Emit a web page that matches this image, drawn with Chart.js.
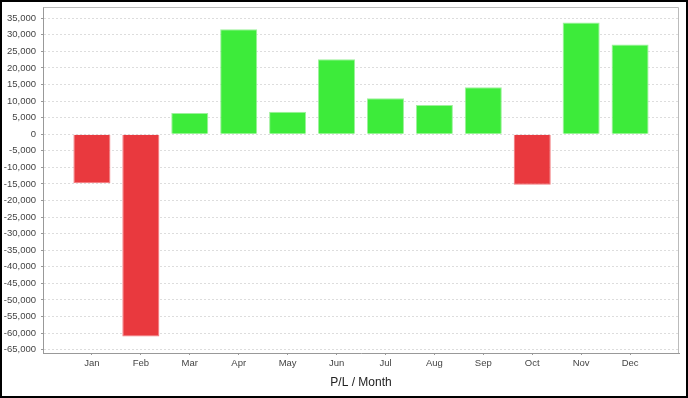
<!DOCTYPE html>
<html>
<head>
<meta charset="utf-8">
<script src="https://cdn.jsdelivr.net/npm/chart.js@4/dist/chart.umd.min.js"></script>
<style>
  html, body { margin: 0; padding: 0; background: #fff; }
  #wrap { width: 688px; height: 398px; box-sizing: border-box; border: 2px solid #000; background: #fff; }
  canvas { display: block; }
</style>
</head>
<body>
<div id="wrap"><canvas id="c" width="684" height="394"></canvas></div>
<script>
const months = ['Jan', 'Feb', 'Mar', 'Apr', 'May', 'Jun', 'Jul', 'Aug', 'Sep', 'Oct', 'Nov', 'Dec'];
const profitLoss = [-14800, -61000, 6400, 31700, 6800, 22600, 10900, 8800, 14200, -15200, 33700, 27100];
const yTickStep = 5000;
const yMin = -66000;
const yMax = 38400;
const xTitle = 'P/L / Month';

// pad the category axis with one empty slot on each side (category margins)
const labels = [''].concat(months, ['']);
const values = [null].concat(profitLoss, [null]);

const RED = '#E9393E', RED_EDGE = '#F2777B';
const GREEN = '#3DEB3A', GREEN_EDGE = '#9DF19B';

const tickFont = { family: "'Liberation Sans Narrow', 'Liberation Sans', Arial, sans-serif", size: 9.5, lineHeight: 1 };

const framePlugin = {
  id: 'frame',
  beforeDatasetsDraw(chart) {
    const a = chart.chartArea, ctx = chart.ctx;
    ctx.save();
    ctx.strokeStyle = '#bbbbbb';
    ctx.lineWidth = 1;
    ctx.beginPath();
    ctx.moveTo(Math.round(a.left) + 0.5, Math.round(a.top) + 0.5);
    ctx.lineTo(Math.round(a.right) - 0.5, Math.round(a.top) + 0.5);
    ctx.lineTo(Math.round(a.right) - 0.5, Math.round(a.bottom));
    ctx.stroke();
    ctx.restore();
  }
};

new Chart(document.getElementById('c'), {
  type: 'bar',
  data: {
    labels: labels,
    datasets: [{
      data: values,
      backgroundColor: (ctx) => (ctx.raw != null && ctx.raw < 0) ? RED : GREEN,
      borderColor: (ctx) => (ctx.raw != null && ctx.raw < 0) ? RED_EDGE : GREEN_EDGE,
      borderWidth: 1,
      categoryPercentage: 1.0,
      barPercentage: 0.757
    }]
  },
  options: {
    responsive: false,
    animation: false,
    devicePixelRatio: 1,
    layout: { padding: { top: 5, right: 7, left: 0, bottom: 0 } },
    plugins: { legend: { display: false }, tooltip: { enabled: false } },
    scales: {
      x: {
        offset: false,
        grid: {
          drawOnChartArea: false, drawTicks: true, tickLength: 2, offset: false,
          tickColor: (ctx) => (ctx.index === 0 || ctx.index === labels.length - 1) ? 'rgba(0,0,0,0)' : '#999999'
        },
        border: { color: '#999999', width: 1 },
        ticks: { font: tickFont, color: '#444444', padding: 4, maxRotation: 0, autoSkip: false },
        title: { display: true, text: xTitle, color: '#222222', font: { family: "'Liberation Sans', Arial, sans-serif", size: 12 }, padding: { top: 0, bottom: 6 } },
        afterFit: (s) => { s.height = 43; s.paddingLeft = 0; s.paddingRight = 0; }
      },
      y: {
        min: yMin,
        max: yMax,
        grid: { color: '#dddddd', lineWidth: 1, drawTicks: true, tickLength: 2, tickColor: '#999999', tickBorderDash: [] },
        border: { color: '#999999', width: 1, dash: [2, 2] },
        ticks: {
          font: tickFont,
          color: '#444444',
          padding: 5,
          autoSkip: false,
          callback: (v) => Number(v).toLocaleString('en-US')
        },
        afterBuildTicks: (s) => {
          const t = [];
          for (let v = Math.ceil(yMin / yTickStep) * yTickStep; v <= yMax; v += yTickStep) t.push({ value: v });
          s.ticks = t;
        },
        afterFit: (s) => { s.width = 41; s.paddingTop = 0; s.paddingBottom = 0; }
      }
    }
  },
  plugins: [framePlugin]
});
</script>
</body>
</html>
